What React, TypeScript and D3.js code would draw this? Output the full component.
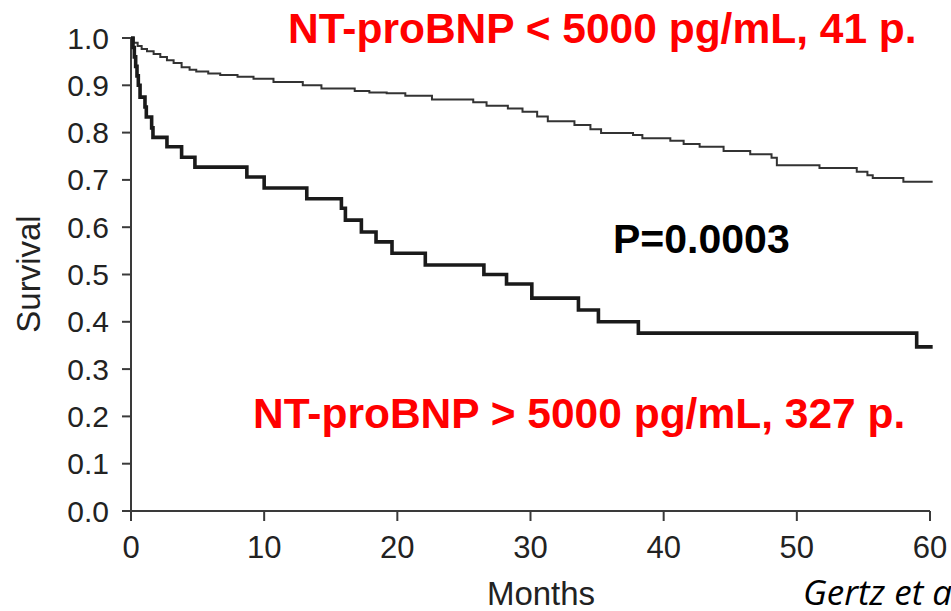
import React from "react";
import * as d3 from "d3";

const xTicks = [0, 10, 20, 30, 40, 50, 60];
const yTicks = [0, 0.1, 0.2, 0.3, 0.4, 0.5, 0.6, 0.7, 0.8, 0.9, 1.0];

// NT-proBNP < 5000 (thin line): [months, survival]
const lowBnpTimes = [0, 0.2, 0.5, 0.8, 1.2, 1.7, 2.2, 2.7, 3.2, 3.8, 4.4, 4.9, 5.8, 6.7, 8.0, 9.2, 10.7, 12.9, 14.3, 16.8, 17.9, 19.2, 20.6, 22.6, 25.7, 26.7, 28.3, 29.4, 30.5, 31.3, 33.3, 34.5, 35.3, 37.7, 38.4, 40.5, 41.5, 42.7, 44.5, 46.5, 48.1, 48.5, 51.7, 54.5, 55.3, 55.7, 58.0, 60.2];
const lowBnpSurv = [1.0, 0.99, 0.983, 0.977, 0.972, 0.966, 0.96, 0.953, 0.947, 0.938, 0.933, 0.929, 0.925, 0.922, 0.918, 0.914, 0.907, 0.9, 0.893, 0.888, 0.885, 0.883, 0.878, 0.87, 0.864, 0.857, 0.851, 0.844, 0.834, 0.824, 0.816, 0.807, 0.799, 0.795, 0.788, 0.783, 0.776, 0.77, 0.761, 0.754, 0.747, 0.731, 0.725, 0.717, 0.71, 0.704, 0.696, 0.696];

// NT-proBNP > 5000 (thick line)
const highBnpTimes = [0, 0.15, 0.25, 0.35, 0.45, 0.55, 0.68, 1.05, 1.15, 1.55, 1.65, 2.7, 3.8, 4.8, 8.7, 10.0, 13.2, 15.8, 16.1, 17.3, 18.4, 19.6, 22.1, 26.5, 28.2, 30.1, 33.6, 35.1, 38.1, 59.0, 60.2];
const highBnpSurv = [1.0, 0.98, 0.96, 0.94, 0.92, 0.9, 0.875, 0.854, 0.833, 0.81, 0.79, 0.77, 0.748, 0.727, 0.706, 0.683, 0.66, 0.64, 0.615, 0.59, 0.569, 0.545, 0.52, 0.5, 0.48, 0.45, 0.425, 0.4, 0.376, 0.347, 0.347];

const labelLow = "NT-proBNP < 5000 pg/mL, 41 p.";
const labelHigh = "NT-proBNP > 5000 pg/mL, 327 p.";
const pLabel = "P=0.0003";
const xTitle = "Months";
const yTitle = "Survival";
const source = "Gertz et al.";

export default function App() {
  const W = 951, H = 611;
  const x = d3.scaleLinear().domain([0, 60]).range([131, 930]);
  const y = d3.scaleLinear().domain([0, 1]).range([511, 38]);
  const line = d3
    .line<[number, number]>()
    .x((d) => x(d[0]))
    .y((d) => y(d[1]))
    .curve(d3.curveStepAfter);
  const low = lowBnpTimes.map((t, i) => [t, lowBnpSurv[i]] as [number, number]);
  const high = highBnpTimes.map((t, i) => [t, highBnpSurv[i]] as [number, number]);
  const axisColor = "#3a3a3a";
  const textColor = "#222";
  const sans = "'Liberation Sans', Arial, Helvetica, sans-serif";
  return (
    <svg
      width={W}
      height={H}
      style={{ position: "fixed", left: 0, top: 0, background: "#fff" }}
    >
      <rect x={0} y={0} width={W} height={H} fill="#fff" />
      {/* axes */}
      <line x1={x(0)} x2={x(0)} y1={y(1)} y2={y(0)} stroke={axisColor} strokeWidth={2} />
      <line x1={x(0)} x2={x(60)} y1={y(0)} y2={y(0)} stroke={axisColor} strokeWidth={2} />
      {yTicks.map((t) => (
        <g key={"y" + t}>
          <line x1={x(0) - 9} x2={x(0)} y1={y(t)} y2={y(t)} stroke={axisColor} strokeWidth={2} />
          <text
            x={109}
            y={y(t)}
            dy="0.35em"
            textAnchor="end"
            fontFamily={sans}
            fontSize={30}
            fill={textColor}
          >
            {d3.format(".1f")(t)}
          </text>
        </g>
      ))}
      {xTicks.map((t) => (
        <g key={"x" + t}>
          <line x1={x(t)} x2={x(t)} y1={y(0)} y2={y(0) + 10} stroke={axisColor} strokeWidth={2} />
          <text
            x={x(t)}
            y={558}
            textAnchor="middle"
            fontFamily={sans}
            fontSize={31}
            fill={textColor}
          >
            {t}
          </text>
        </g>
      ))}
      <text x={541} y={605} textAnchor="middle" fontFamily={sans} fontSize={33} fill={textColor}>
        {xTitle}
      </text>
      <text
        transform={`translate(40,274) rotate(-90)`}
        textAnchor="middle"
        fontFamily={sans}
        fontSize={33}
        fill={textColor}
      >
        {yTitle}
      </text>
      {/* curves */}
      <path d={line(low) || ""} fill="none" stroke="#333" strokeWidth={2} />
      <path d={line(high) || ""} fill="none" stroke="#1a1a1a" strokeWidth={3.6} />
      {/* annotations */}
      <text x={288} y={43} fontFamily={sans} fontWeight="bold" fontSize={42.5} fill="#ff0000">
        {labelLow}
      </text>
      <text x={253} y={428} fontFamily={sans} fontWeight="bold" fontSize={42.5} fill="#ff0000">
        {labelHigh}
      </text>
      <text x={613} y={253} fontFamily={sans} fontWeight="bold" fontSize={41} fill="#000">
        {pLabel}
      </text>
      <text
        x={803}
        y={605}
        fontFamily="'Open Sans', sans-serif"
        fontStyle="italic"
        fontSize={35}
        fill="#000"
      >
        {source}
      </text>
    </svg>
  );
}
